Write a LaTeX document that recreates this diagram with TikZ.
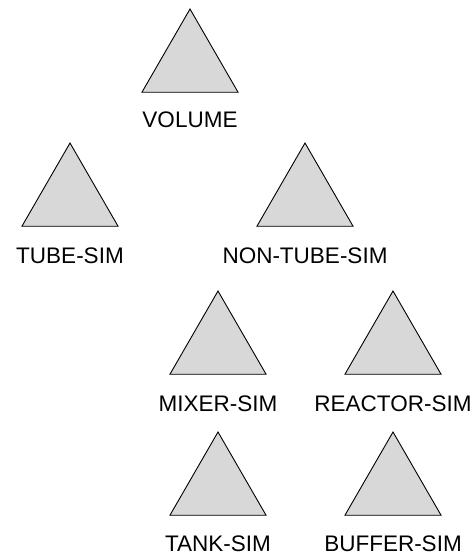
\documentclass[tikz,border=0pt]{standalone}
\usepackage{fontspec}
\setmainfont{Liberation Sans}
\usetikzlibrary{positioning,shapes.geometric}
\definecolor{trifill}{HTML}{D8D8D8}
\tikzset{
  simtri/.style={regular polygon, regular polygon sides=3, draw=black, fill=trifill,
    line width=0.9pt, inner sep=0pt, outer sep=0pt, minimum size=111pt},
  simlbl/.style={inner sep=0pt, font=\fontsize{22.5}{27}\selectfont},
}

\begin{document}
\begin{tikzpicture}[x=1pt, y=1pt]
  \useasboundingbox (0,0) rectangle (474,-557);
  \node[simtri] (vol) at (190,-64.5) {};
  \node[simtri] (tube) at (70,-198.5) {};
  \node[simtri] (nontube) at (305,-198.5) {};
  \node[simtri] (mixer) at (218,-346.5) {};
  \node[simtri] (reactor) at (393,-346.5) {};
  \node[simtri] (tank) at (218,-487.5) {};
  \node[simtri] (buffer) at (393,-487.5) {};
  \node[simlbl, below=19pt of vol.south] (vol-l) {VOLUME};
  \node[simlbl, below=21pt of tube.south] (tube-l) {TUBE-SIM};
  \node[simlbl, below=21pt of nontube.south] (nontube-l) {NON-TUBE-SIM};
  \node[simlbl, below=21pt of mixer.south] (mixer-l) {MIXER-SIM};
  \node[simlbl, below=21pt of reactor.south] (reactor-l) {REACTOR-SIM};
  \node[simlbl, below=20pt of tank.south] (tank-l) {TANK-SIM};
  \node[simlbl, below=20pt of buffer.south] (buffer-l) {BUFFER-SIM};
\end{tikzpicture}
\end{document}
